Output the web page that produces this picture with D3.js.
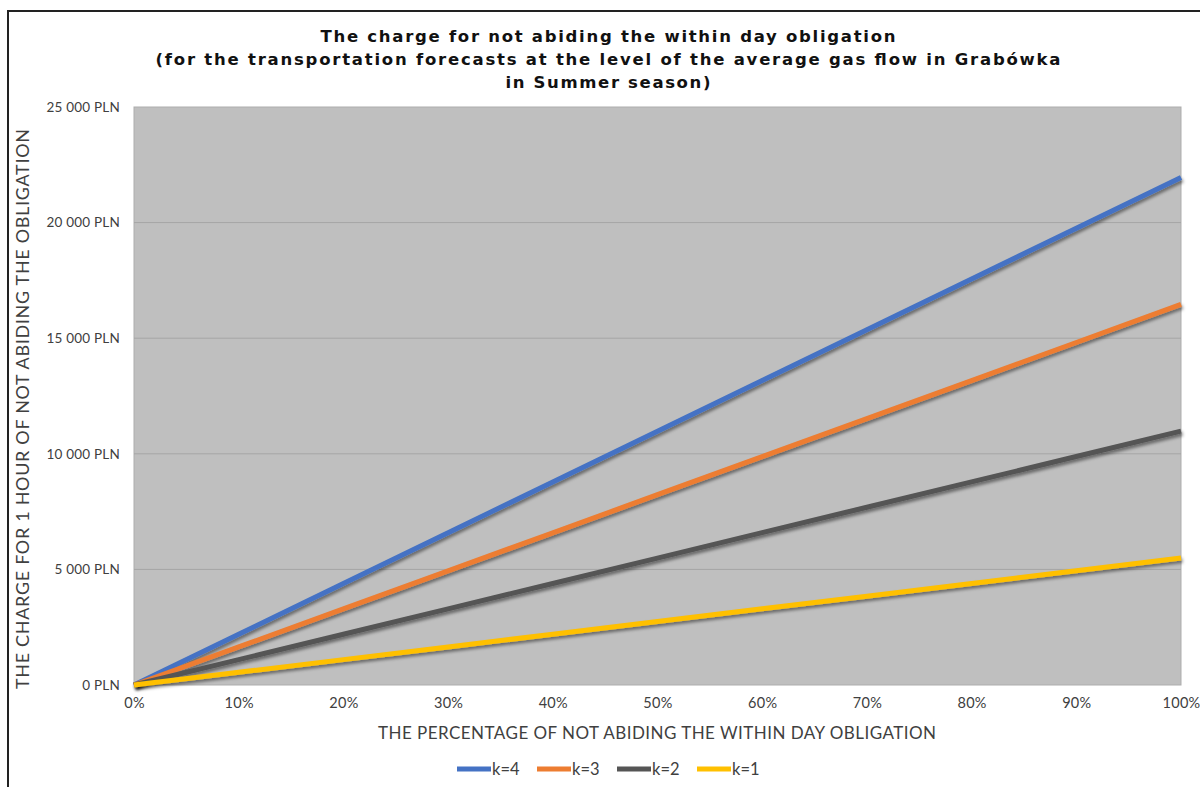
<!DOCTYPE html>
<html>
<head>
<meta charset="utf-8">
<script src="https://cdn.jsdelivr.net/npm/d3@7"></script>
<style>
  body { margin: 0; background: #fff; }
  text { font-family: "Century Gothic", "URW Gothic", "Lato", "DejaVu Sans", sans-serif; }
</style>
</head>
<body>
<div id="chart"></div>
<script>
// percentages on the x axis
const pct = [0, 0.1, 0.2, 0.3, 0.4, 0.5, 0.6, 0.7, 0.8, 0.9, 1];

// charge in PLN
const k4 = [0, 2195, 4390, 6585, 8780, 10975, 13170, 15365, 17560, 19755, 21950];
const k3 = [0, 1646, 3292, 4938, 6584, 8230, 9876, 11522, 13168, 14814, 16460];
const k2 = [0, 1098, 2196, 3294, 4392, 5490, 6588, 7686, 8784, 9882, 10980];
const k1 = [0, 549, 1098, 1647, 2196, 2745, 3294, 3843, 4392, 4941, 5490];

const seriesNames = ["k=4", "k=3", "k=2", "k=1"];
const seriesColors = ["#4472C4", "#ED7D31", "#555555", "#FFC000"];
const yTicks = [0, 5000, 10000, 15000, 20000, 25000];
const xTicks = [0, 0.1, 0.2, 0.3, 0.4, 0.5, 0.6, 0.7, 0.8, 0.9, 1];

const titleLines = [
  "The charge for not abiding the within day obligation",
  "(for the transportation forecasts at the level of the average gas flow in Grabówka",
  "in Summer season)"
];

const width = 1200, height = 787;
const margin = { top: 107, right: 19, bottom: 102, left: 134 };

const series = [k4, k3, k2, k1].map((vals, i) => ({
  name: seriesNames[i],
  color: seriesColors[i],
  points: pct.map((p, j) => ({ x: p, y: vals[j] }))
}));

const svg = d3.select("#chart").append("svg")
  .attr("width", width)
  .attr("height", height);

// drop shadow like the office chart
const defs = svg.append("defs");
const f = defs.append("filter").attr("id", "shadow")
  .attr("x", "-5%").attr("y", "-5%").attr("width", "110%").attr("height", "120%");
f.append("feDropShadow")
  .attr("dx", 1.5).attr("dy", 2.5).attr("stdDeviation", 1.5)
  .attr("flood-color", "#000").attr("flood-opacity", 0.45);

// outer frame
svg.append("path")
  .attr("d", `M8,${height} L8,11 L${width},11`)
  .attr("fill", "none")
  .attr("stroke", "#222")
  .attr("stroke-width", 2);

const x = d3.scaleLinear()
  .domain([0, 1])
  .range([margin.left, width - margin.right]);

const y = d3.scaleLinear()
  .domain([0, 25000])
  .range([height - margin.bottom, margin.top]);

// plot background
svg.append("rect")
  .attr("x", x(0)).attr("y", y(25000))
  .attr("width", x(1) - x(0)).attr("height", y(0) - y(25000))
  .attr("fill", "#BFBFBF")
  .attr("stroke", "#ADADAD");

// grid
svg.append("g")
  .selectAll("line")
  .data(yTicks.slice(1, -1))
  .join("line")
  .attr("x1", x(0)).attr("x2", x(1))
  .attr("y1", d => y(d)).attr("y2", d => y(d))
  .attr("stroke", "#A5A5A5")
  .attr("stroke-width", 1);

const fmtPLN = d => d3.format(",")(d).replace(/,/g, " ") + " PLN";
const tickFont = "\"Century Gothic\", \"URW Gothic\", Lato, sans-serif";

svg.append("g")
  .attr("transform", `translate(${x(0)},0)`)
  .call(d3.axisLeft(y).tickValues(yTicks).tickFormat(fmtPLN).tickSize(0).tickPadding(14))
  .call(g => g.select(".domain").remove())
  .call(g => g.selectAll("text")
    .attr("font-size", 13.5)
    .attr("letter-spacing", 0.2)
    .attr("fill", "#404040")
    .style("font-family", tickFont));

svg.append("g")
  .attr("transform", `translate(0,${y(0)})`)
  .call(d3.axisBottom(x).tickValues(xTicks).tickFormat(d3.format(".0%")).tickSize(0).tickPadding(13))
  .call(g => g.select(".domain").remove())
  .call(g => g.selectAll("text")
    .attr("font-size", 14.5)
    .attr("letter-spacing", 0.3)
    .attr("fill", "#404040")
    .style("font-family", tickFont));

// lines
const line = d3.line()
  .x(d => x(d.x))
  .y(d => y(d.y));

svg.append("g")
  .selectAll("path")
  .data(series)
  .join("path")
  .attr("d", d => line(d.points))
  .attr("fill", "none")
  .attr("stroke", d => d.color)
  .attr("stroke-width", 5)
  .attr("stroke-linecap", "butt")
  .attr("filter", "url(#shadow)");

// title, centred lines
const titleW = [575, 905, 205];
svg.append("g")
  .selectAll("text")
  .data(titleLines)
  .join("text")
  .attr("x", 608)
  .attr("y", (d, i) => 42 + i * 23)
  .attr("text-anchor", "middle")
  .attr("font-size", 16.5)
  .attr("font-weight", "bold")
  .attr("textLength", (d, i) => titleW[i])
  .attr("lengthAdjust", "spacing")
  .attr("fill", "#111")
  .style("font-family", "\"Century Gothic\", \"URW Gothic\", \"DejaVu Sans\", sans-serif")
  .text(d => d);

// axis titles
svg.append("text")
  .attr("x", 378)
  .attr("y", 739)
  .attr("font-size", 17)
  .attr("textLength", 558)
  .attr("lengthAdjust", "spacing")
  .attr("fill", "#404040")
  .text("THE PERCENTAGE OF NOT ABIDING THE WITHIN DAY OBLIGATION");

svg.append("text")
  .attr("transform", "translate(29,689) rotate(-90)")
  .attr("font-size", 18)
  .attr("textLength", 560)
  .attr("lengthAdjust", "spacing")
  .attr("fill", "#404040")
  .text("THE CHARGE FOR 1 HOUR OF NOT ABIDING THE OBLIGATION");

// legend
const legendX = [457, 537, 617, 697];
const legend = svg.append("g")
  .selectAll("g")
  .data(series)
  .join("g")
  .attr("transform", (d, i) => `translate(${legendX[i]},769)`);

legend.append("line")
  .attr("x1", 0).attr("x2", 34)
  .attr("stroke", d => d.color)
  .attr("stroke-width", 5);

legend.append("text")
  .attr("x", 35)
  .attr("y", 6)
  .attr("font-size", 16.5)
  .attr("fill", "#404040")
  .text(d => d.name);
</script>
</body>
</html>
